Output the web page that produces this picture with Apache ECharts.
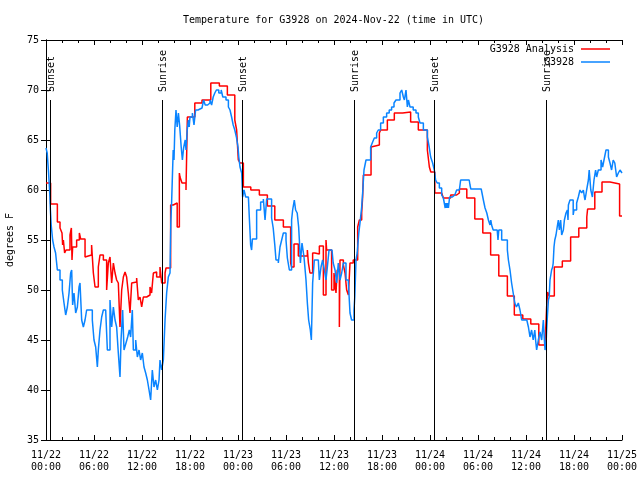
<!DOCTYPE html>
<html><head><meta charset="utf-8">
<script src="https://cdn.jsdelivr.net/npm/echarts@6/dist/echarts.min.js"></script>
<style>html,body{margin:0;padding:0;background:#fff}#c{width:640px;height:480px}</style>
</head><body><div id="c"></div>
<script>
// Time axis: hours since 2024-11-22 00:00 UTC
const xTickLabels = ['11/22\n00:00','11/22\n06:00','11/22\n12:00','11/22\n18:00','11/23\n00:00','11/23\n06:00','11/23\n12:00','11/23\n18:00','11/24\n00:00','11/24\n06:00','11/24\n12:00','11/24\n18:00','11/25\n00:00'];
const sunEventHours = [0.5, 14.53, 24.53, 38.55, 48.52, 62.45];
const sunEventNames = ['Sunset','Sunrise','Sunset','Sunrise','Sunset','Sunrise'];

// G3928 Analysis  [hour, degF]
const analysisPoints = [
[0,60.7],[0.58,58.6],[1.42,56.8],[1.75,56.2],[2.0,55.7],[2.08,54.5],[2.17,55],[2.33,53.7],[2.5,54],[3.0,55.5],[3.17,56.2],[3.25,53],[3.33,54.3],[3.83,55],[4.17,55.7],[4.33,55.1],[4.88,53.3],[5.08,53.5],[5.7,54.5],[5.92,51.7],[6.13,50.3],[6.54,52.3],[6.75,53.5],[7.17,53],[7.58,50],[7.79,52.7],[8.0,53.3],[8.21,50.7],[8.42,52.7],[8.63,51.7],[8.83,51],[9.04,50.7],[9.25,46.3],[9.46,50],[9.67,51.3],[9.88,51.8],[10.08,51.3],[10.29,49.7],[10.5,47.7],[10.71,50.7],[10.92,50.8],[11.33,51.2],[11.54,49],[11.75,49.3],[11.96,48.3],[12.17,49.3],[12.58,49.5],[13.0,50.3],[13.2,49.7],[13.42,51.7],[13.63,51.8],[13.83,51.3],[14.25,52.3],[14.46,50.7],[14.88,51.7],[15.0,52.2],
[15.58,58.5],[15.9,58.7],[16.4,56.3],[16.67,61.7],[16.75,61.3],[17.0,60.7],[17.5,60],[17.67,67.3],[18.6,68.7],[19.5,69],[20.6,70.7],[21.67,70.4],[22.67,69.5],[23.6,67],[23.83,66],[24.04,63],[24.25,62.7],[24.67,60.3],
[25.6,60],[26.67,59.5],[27.67,58.4],[28.6,57],[29.67,56.3],[30.58,52.7],[30.7,52.3],[31.0,54.6],[31.54,53.4],[32.67,54],[32.8,52.7],[33.0,51.7],[33.33,53.7],[33.6,53.6],[34.17,54.4],[34.67,49.5],[35.0,55],[35.08,54],[35.7,50],[36.0,51.7],[36.25,49.7],[36.4,52],[36.67,46.3],[36.75,53],[37.17,52.5],[37.38,51.7],[37.58,50],[37.8,49.5],[38.0,52.7],[38.4,53],
[38.96,56.3],[39.17,57],[39.46,57.7],[39.58,59.3],[39.67,61.5],[40.63,64.3],[40.7,64.5],[41.67,65.7],[41.83,66],[42.67,67],[43.54,67.7],[44.58,67.8],[45.58,66.8],[46.54,66],[47.67,64],[47.92,62.3],[48.1,61.8],[48.6,59.7],[49.46,59.5],[49.67,59.2],[50.58,59.5],[51.33,59.7],[51.67,60.1],[52.6,59.2],[53.6,57.1],[54.6,55.7],[55.58,53.5],[56.6,51.4],[57.67,49.4],[58.54,47.5],[59.6,47.1],[60.6,46.6],[61.6,44.5],[62.38,44.3],
[62.58,48.3],[62.7,49.8],[62.9,49.4],[63.54,52.3],[64.54,52.9],[65.58,55.3],[66.6,56.2],[67.6,57.3],[67.7,58.1],[68.6,59.8],[69.5,60.8],[70.5,60.6],[71.7,57.4],[72,57.4]
];

// G3928 observations  [hour, degF]
const observedPoints = [
[0,64.2],[0.15,63.7],[0.3,62],[0.45,60],[0.55,58],[0.65,56.5],[0.83,55],[1.0,54.3],[1.2,53.7],[1.42,52],[1.75,51],[2.04,50],[2.25,48.7],[2.46,47.5],[2.67,48.3],[2.88,49.7],[3.08,51.7],[3.21,52],[3.33,48.5],[3.5,49.7],[3.71,47.7],[3.92,48.3],[4.13,50.3],[4.25,50.7],[4.46,47],[4.67,46.3],[4.88,47],[5.08,48],[5.5,48],[5.79,47],[6.0,45],[6.21,44.3],[6.42,42.3],[6.54,44],[6.75,46],[6.96,47.3],[7.17,48],[7.46,48],[7.67,44],[8.0,49],[8.21,46.3],[8.42,48.3],[8.63,47],[8.83,46.3],[9.04,43.7],[9.25,41.3],[9.38,45],[9.58,48],[9.75,44],[10.0,44.7],[10.21,45.3],[10.42,46],[10.58,45.3],[10.79,48],[10.92,44],[11.21,45],[11.42,43.3],[11.63,44],[11.83,43],[12.04,43.7],[12.25,42.3],[12.46,41.7],[12.67,41],[12.88,40],[13.08,39],[13.29,42],[13.5,40.3],[13.71,41],[13.92,40],[14.13,41],[14.25,43],[14.46,42],[14.67,43],[14.88,47],[15.08,49.7],[15.29,51.3],[15.5,51.7],
[15.6,56.7],[15.7,58.7],[15.9,64],[16.0,63],[16.1,66],[16.25,68],[16.4,66.3],[16.55,67.7],[16.7,66.5],[16.9,64.3],[17.05,63],[17.2,64.2],[17.4,65],[17.5,64],[17.65,66],[17.8,67],[17.9,66.3],[18.0,67.3],[18.3,67.7],[18.5,66.5],[18.7,68],[19.0,68.2],[19.5,68.3],[19.7,69],[19.9,68.5],[20.2,68.7],[20.5,69],[20.7,68.5],[20.9,69.3],[21.1,69.7],[21.3,70],[21.6,69.7],[21.9,70],[22.1,69.3],[22.5,69],[22.8,68.3],[23.0,68],[23.2,67.3],[23.4,66.5],[23.6,66],[23.8,65.3],[24.0,64.3],[24.1,63.3],[24.25,62.3],[24.46,61.7],[24.58,59.3],[24.75,60],[24.96,59.3],
[25.3,59.1],[25.4,57.5],[25.58,54.5],[25.7,54],[25.8,55.1],[26.33,58],[26.83,58.8],[27.17,59.1],[27.38,57],[27.58,59.1],[28.2,57.2],[28.4,56.2],[28.6,54.5],[28.75,53],[29.04,52.7],[29.25,54.3],[29.46,55],[29.67,55.7],[30.0,55],[30.17,53.2],[30.42,52],[30.7,57],[30.83,58],[31.04,59],[31.2,58],[31.4,57.7],[31.58,56.3],[31.67,55],[31.8,52.7],[32.0,54.7],[32.25,53.3],[32.5,51],[32.67,48.7],[32.83,47],[33.04,46],[33.17,45],[33.33,50.7],[33.54,53],[34.04,53],[34.17,51],[34.38,52.3],[34.58,53],[34.8,52],[35.0,51],[35.17,52.3],[35.38,54],[35.75,54],[35.9,52.7],[36.13,52],[36.33,50.7],[36.54,52.7],[36.75,51],[36.96,51.7],[37.17,52.7],[37.5,51],[37.8,50.7],[38.0,47.7],[38.2,47],[38.5,48],[38.6,49.3],
[38.75,53],[38.9,53.7],[39.1,55.7],[39.25,56.7],[39.46,58.3],[39.58,59.7],[39.75,62],[40.0,63],[40.58,64.3],[40.83,64.8],[41.04,65.2],[41.33,65.7],[41.54,66],[41.83,66.7],[42.17,67.3],[42.58,67.7],[42.9,68],[43.2,68.3],[43.5,68.7],[43.75,69],[44.25,69.7],[44.46,70],[44.67,69.3],[44.8,69],[45.0,70],[45.17,68.3],[45.3,69],[45.5,68.3],[45.9,68],[46.25,67.7],[46.54,67.3],[46.75,66.7],[47.17,66],[47.67,65.3],[47.9,64.3],[48.08,63.3],[48.33,62.7],[48.54,62],[48.7,61],[48.9,60.7],[49.17,60.2],[49.46,59.5],[49.67,59.2],
[49.9,58.2],[50.0,58.7],[50.1,58.2],[50.2,58.7],[50.3,58.2],[50.45,59.3],[50.8,59.5],[51.1,59.7],[51.33,60],[51.67,60.1],[51.83,61],[52.9,61.1],[53.0,60.5],[53.1,60.1],[54.4,60.1],[54.5,59.7],[54.67,59],[54.88,58.2],[55.1,57.7],[55.3,57],[55.5,56.5],[55.6,57],[55.7,56.5],[55.9,56],[56.4,56],[56.5,55],[56.6,56],[56.96,55],[57.67,54],[57.8,53],[58.0,52],[58.2,50.7],[58.4,49.7],[58.6,48.7],[58.8,48.3],[59.04,48.7],[59.25,48],[59.46,47],[59.67,47],
[60.1,47],[60.3,46.3],[60.5,45.3],[60.7,46],[60.9,45],[61.1,46],[61.2,45],[61.33,44],[61.54,45],[61.75,45.8],[61.96,45],[62.17,47],[62.3,45],[62.38,44],[62.5,44.5],[62.58,46],[62.67,47.3],[62.8,49],[62.9,49.3],[63.0,51],[63.2,52],[63.33,52.3],[63.4,52.7],[63.5,54.3],[63.6,55],[63.75,55.5],[63.9,56.3],
[64.04,57],[64.17,56],[64.33,57],[64.46,55.5],[64.67,56],[64.8,57],[65.0,57.7],[65.17,58],[65.25,57],[65.3,58.5],[65.5,59],[65.9,57.5],[66.0,58],[66.33,58.7],[66.54,59.3],[66.75,60],[66.96,59.7],[67.17,60],[67.3,59.3],[67.38,59],[67.58,60],[67.8,61],[67.9,62],[68.1,60],[68.3,59.3],[68.5,61],[68.7,62],[68.83,61.3],[69.04,62],[69.38,63],[69.58,62.3],[69.75,63],[70.0,64],[70.17,64],[70.3,63.3],[70.5,62.7],[70.7,62],[70.9,63],[71.1,62.7],[71.33,61.3],[71.54,61.7],[71.75,62],[72,61.7]
];

const FONT = 'DejaVu Sans Mono';
const SUN_TOP = 69, Y_MIN = 35, Y_MAX = 75;
const chart = echarts.init(document.getElementById('c'), null, {renderer: 'canvas'});

const tickCommon = {
  axisLine: {show: true, lineStyle: {color: '#000', width: 1}},
  axisTick: {show: true, inside: true, length: 5, lineStyle: {color: '#000', width: 1}},
  splitLine: {show: false}
};

chart.setOption({
  animation: false,
  backgroundColor: '#fff',
  title: {
    text: 'Temperature for G3928 on 2024-Nov-22 (time in UTC)',
    left: 183, top: 15, padding: 0,
    textStyle: {fontFamily: FONT, fontSize: 10, fontWeight: 'normal', color: '#000'}
  },
  legend: [
    {data: ['G3928 Analysis'], right: 30, top: 44, align: 'right', icon: 'rect', itemWidth: 29, itemHeight: 1.5, padding: 0, selectedMode: false,
     textStyle: {fontFamily: FONT, fontSize: 10, color: '#000', padding: [0, 2, 0, 0]}},
    {data: ['G3928'], right: 30, top: 57, align: 'right', icon: 'rect', itemWidth: 29, itemHeight: 1.5, padding: 0, selectedMode: false,
     textStyle: {fontFamily: FONT, fontSize: 10, color: '#000', padding: [0, 2, 0, 0]}}
  ],
  grid: {left: 46, right: 18, top: 40, bottom: 40, containLabel: false, outerBoundsMode: 'none'},
  xAxis: [
    Object.assign({
      type: 'value', min: 0, max: 72, interval: 6, position: 'bottom',
      minorTick: {show: true, splitNumber: 3, length: 3, lineStyle: {color: '#000', width: 1}},
      axisLabel: {formatter: v => xTickLabels[Math.round(v / 6)], fontFamily: FONT, fontSize: 10, color: '#000', lineHeight: 12, margin: 9}
    }, tickCommon),
    Object.assign({
      type: 'value', min: 0, max: 72, interval: 6, position: 'top',
      minorTick: {show: true, splitNumber: 3, length: 3, lineStyle: {color: '#000', width: 1}},
      axisLabel: {show: false}
    }, tickCommon)
  ],
  yAxis: [
    Object.assign({
      type: 'value', min: Y_MIN, max: Y_MAX, interval: 5, position: 'left',
      name: 'degrees F', nameLocation: 'middle', nameGap: 31, nameRotate: 90,
      nameTextStyle: {fontFamily: FONT, fontSize: 10, color: '#000'},
      axisLabel: {fontFamily: FONT, fontSize: 10, color: '#000', margin: 7}
    }, tickCommon),
    Object.assign({
      type: 'value', min: Y_MIN, max: Y_MAX, interval: 5, position: 'right',
      axisLabel: {show: false}
    }, tickCommon)
  ],
  series: [
    {
      name: 'G3928 Analysis', type: 'line', step: 'end', data: analysisPoints,
      showSymbol: false, symbol: 'none', color: '#ff0000',
      lineStyle: {color: '#ff0000', width: 1.5}, z: 2
    },
    {
      name: 'G3928', type: 'line', step: 'end', data: observedPoints,
      showSymbol: false, symbol: 'none', color: '#0a84ff',
      lineStyle: {color: '#0a84ff', width: 1.5}, z: 3
    },
    {
      name: 'sun', type: 'custom', silent: true, z: 5,
      encode: {x: 0, y: 1},
      data: sunEventHours.map(h => [h, SUN_TOP]),
      renderItem: function (params, api) {
        const top = api.coord([api.value(0), SUN_TOP]);
        const bot = api.coord([api.value(0), Y_MIN]);
        const x = Math.round(top[0]) + 0.5;
        return {
          type: 'group',
          children: [
            {type: 'line', shape: {x1: x, y1: top[1], x2: x, y2: bot[1]}, style: {stroke: '#000', lineWidth: 1}},
            {type: 'text', x: x + 1, y: top[1] - 8, rotation: Math.PI / 2,
             style: {text: sunEventNames[params.dataIndex], fill: '#000', font: '10px "DejaVu Sans Mono"', align: 'left', verticalAlign: 'middle'}}
          ]
        };
      }
    }
  ]
});
</script>
</body></html>
